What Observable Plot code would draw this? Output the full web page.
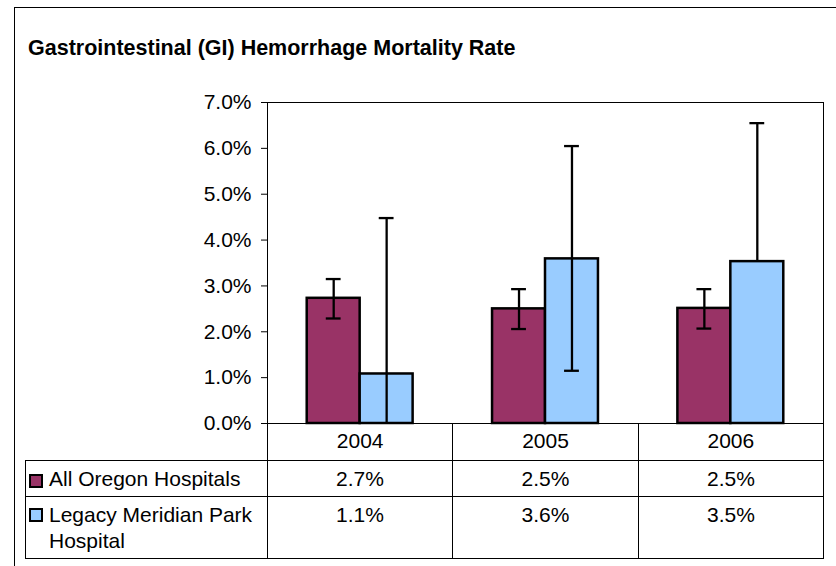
<!DOCTYPE html>
<html>
<head>
<meta charset="utf-8">
<script src="https://cdn.jsdelivr.net/npm/d3@7"></script>
<script src="https://cdn.jsdelivr.net/npm/@observablehq/plot@0.6"></script>
<style>
  html, body { margin: 0; padding: 0; background: #fff; overflow: hidden; }
  #wrap { position: relative; width: 836px; height: 566px; overflow: hidden;
          font-family: "Liberation Sans", Arial, sans-serif; color: #000; }
  #border { position: absolute; left: 14px; top: 7px; width: 900px; height: 700px;
            border: 1px solid #000; box-sizing: border-box; }
  #title { position: absolute; left: 28px; top: 36px; font-size: 21.5px; line-height: 24px;
           font-weight: bold; white-space: nowrap; }
  #chart { position: absolute; left: 0; top: 0; }
  .cell { position: absolute; box-sizing: border-box; border: 1px solid #000;
          font-size: 21px; line-height: 26.7px; padding-top: 4.5px; white-space: nowrap; }
  .val { text-align: center; }
  .lab { display: flex; align-items: flex-start; }
  .lab span.txt { white-space: normal; width: 205px; }
  .key { flex: none; width: 14px; height: 14px; box-sizing: border-box; border: 2px solid #000;
         margin-right: 6px; }
</style>
</head>
<body>
<div id="wrap">
  <div id="border"></div>
  <div id="title"></div>
  <div id="chart"></div>
  <div id="table"></div>
</div>
<script>
// ---- data ----
const title = "Gastrointestinal (GI) Hemorrhage Mortality Rate";
const years = ["2004", "2005", "2006"];
const seriesNames = ["All Oregon Hospitals", "Legacy Meridian Park Hospital"];
const seriesColors = ["#993366", "#99CCFF"];
const oregonRate = [2.73, 2.50, 2.51];
const legacyRate = [1.08, 3.59, 3.53];
const oregonLow = [2.29, 2.06, 2.07];
const oregonHigh = [3.15, 2.93, 2.93];
const legacyLow = [-2.32, 1.15, null];
const legacyHigh = [4.48, 6.05, 6.55];
const oregonLabels = ["2.7%", "2.5%", "2.5%"];
const legacyLabels = ["1.1%", "3.6%", "3.5%"];
const yTicks = [0, 1, 2, 3, 4, 5, 6, 7];

document.getElementById("title").textContent = title;

// ---- layout ----
const gapWidth = 1.5;               // Excel gap width (150%)
const barW = 1 / (2 + gapWidth);    // fraction of a category
const capHalf = 0.04;

const series = [
  {name: seriesNames[0], rate: oregonRate, low: oregonLow, high: oregonHigh, color: seriesColors[0], side: -1},
  {name: seriesNames[1], rate: legacyRate, low: legacyLow, high: legacyHigh, color: seriesColors[1], side: 1}
];

const bars = [], errs = [], caps = [];
series.forEach(s => {
  years.forEach((yr, i) => {
    const x1 = s.side < 0 ? i - barW : i;
    const x2 = s.side < 0 ? i : i + barW;
    const xc = (x1 + x2) / 2;
    bars.push({x1, x2, v: s.rate[i], color: s.color});
    const lo = s.low[i] == null ? s.rate[i] : Math.max(0, s.low[i]);
    errs.push({x: xc, y1: lo, y2: s.high[i]});
    caps.push({x: xc, y: s.high[i]});
    if (s.low[i] != null && s.low[i] >= 0) caps.push({x: xc, y: s.low[i]});
  });
});

const plot = Plot.plot({
  width: 836,
  height: 470,
  marginLeft: 267,
  marginRight: 13,
  marginTop: 102,
  marginBottom: 47,
  style: {background: "transparent", fontFamily: "'Liberation Sans', Arial, sans-serif", fontSize: "21px", color: "#000"},
  x: {domain: [-0.5, 2.5], ticks: [0, 1, 2], tickFormat: i => years[i], tickSize: 0, tickPadding: 9.5, label: null},
  y: {domain: [0, 7], ticks: yTicks, tickFormat: d => d.toFixed(1) + "%", tickSize: 6, tickPadding: 10, label: null},
  marks: [
    Plot.rectY(bars, {x1: "x1", x2: "x2", y1: 0, y2: "v", fill: "color", stroke: "#000", strokeWidth: 2.5}),
    Plot.ruleX(errs, {x: "x", y1: "y1", y2: "y2", stroke: "#000", strokeWidth: 2.3}),
    Plot.ruleY(caps, {y: "y", x1: d => d.x - capHalf, x2: d => d.x + capHalf, stroke: "#000", strokeWidth: 2.3}),
    Plot.frame({stroke: "#000", strokeWidth: 1})
  ]
});
document.getElementById("chart").appendChild(plot);

// ---- data table below the chart, aligned on the x scale ----
const sx = plot.scale("x");
const xs = d3.scaleLinear(sx.domain, sx.range);
const colEdges = [25, ...[-0.5, 0.5, 1.5, 2.5].map(v => Math.round(xs(v)))];
const rowEdges = [423, 460, 496, 558];
const tbl = document.getElementById("table");
function place(d, r, c) {
  d.style.left = colEdges[c] + "px";
  d.style.width = (colEdges[c + 1] - colEdges[c] + 1) + "px";
  d.style.top = rowEdges[r] + "px";
  d.style.height = (rowEdges[r + 1] - rowEdges[r] + 1) + "px";
}
function cell(r, c, text, cls) {
  const d = document.createElement("div");
  d.className = "cell " + cls;
  place(d, r, c);
  d.textContent = text;
  tbl.appendChild(d);
}
years.forEach((y, i) => cell(0, i + 1, "", "val"));
const rowsData = [oregonLabels, legacyLabels];
series.forEach((s, r) => {
  const d = document.createElement("div");
  d.className = "cell";
  place(d, r + 1, 0);
  d.style.paddingLeft = "3px";
  const lab = document.createElement("div");
  lab.className = "lab";
  const k = document.createElement("span");
  k.className = "key";
  k.style.background = s.color;
  k.style.marginTop = (r === 0 ? 8 : 6.5) + "px";
  const t = document.createElement("span");
  t.className = "txt";
  t.textContent = s.name;
  lab.appendChild(k); lab.appendChild(t);
  d.appendChild(lab);
  tbl.appendChild(d);
  rowsData[r].forEach((v, i) => cell(r + 1, i + 1, v, "val"));
});
</script>
</body>
</html>
